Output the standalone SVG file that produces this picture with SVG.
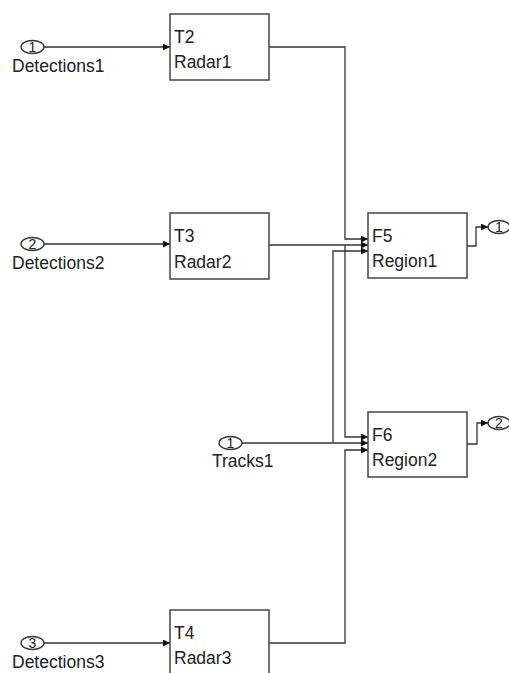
<svg xmlns="http://www.w3.org/2000/svg" width="509" height="673" viewBox="0 0 509 673">
<defs>
<marker id="arr" viewBox="0 0 8 8" refX="8" refY="4" markerWidth="7" markerHeight="7" markerUnits="userSpaceOnUse" orient="auto">
<path d="M0,0 L8,4 L0,8 z" fill="#111"/>
</marker>
<style>
.blk{fill:#fff;stroke:#444;stroke-width:1.5}
.port{fill:#fff;stroke:#333;stroke-width:1.3}
.t{font-family:"Liberation Sans",Arial,sans-serif;font-size:17.5px;fill:#222}
.n{font-family:"Liberation Sans",Arial,sans-serif;font-size:14px;fill:#222;text-anchor:middle}
.c{fill:none;stroke:#333;stroke-width:1.3}
.a{marker-end:url(#arr)}
</style>
</defs>
<rect width="509" height="673" fill="#fff"/>
<g id="connectors">
<path class="c a" d="M44,47 H170"/>
<path class="c a" d="M44,244 H170"/>
<path class="c a" d="M44,643 H170"/>
<path class="c a" d="M242,443 H368"/>
<path class="c a" d="M333,443 V251 H368"/>
<path class="c a" d="M269,47 H345 V239 H368"/>
<path class="c a" d="M269,245 H368"/>
<path class="c a" d="M345,245 V437 H368"/>
<path class="c a" d="M269,643 H345 V450 H368"/>
<path class="c a" d="M467,246 H476 V227 H488"/>
<path class="c a" d="M467,444 H477 V423 H488"/>
</g>
<g id="in_Detections1">
<ellipse class="port" cx="32.5" cy="47" rx="11.5" ry="6.5"/>
<text class="n" x="32.5" y="52">1</text>
<text class="t" x="12" y="72">Detections1</text>
</g>
<g id="in_Detections2">
<ellipse class="port" cx="32.5" cy="244" rx="11.5" ry="6.5"/>
<text class="n" x="32.5" y="249">2</text>
<text class="t" x="12" y="269">Detections2</text>
</g>
<g id="in_Detections3">
<ellipse class="port" cx="32.5" cy="643" rx="11.5" ry="6.5"/>
<text class="n" x="32.5" y="648">3</text>
<text class="t" x="12" y="668">Detections3</text>
</g>
<g id="in_Tracks1">
<ellipse class="port" cx="230.5" cy="443" rx="11.5" ry="6.5"/>
<text class="n" x="230.5" y="448">1</text>
<text class="t" x="212" y="467">Tracks1</text>
</g>
<g id="T2">
<rect class="blk" x="170" y="14" width="99" height="66"/>
<text class="t" x="174" y="43">T2</text>
<text class="t" x="174" y="68">Radar1</text>
</g>
<g id="T3">
<rect class="blk" x="170" y="213" width="99" height="66"/>
<text class="t" x="174" y="242">T3</text>
<text class="t" x="174" y="268">Radar2</text>
</g>
<g id="T4">
<rect class="blk" x="170" y="610" width="99" height="70"/>
<text class="t" x="174" y="639">T4</text>
<text class="t" x="174" y="664">Radar3</text>
</g>
<g id="F5">
<rect class="blk" x="368" y="213" width="99" height="65"/>
<text class="t" x="372" y="242">F5</text>
<text class="t" x="372" y="267">Region1</text>
</g>
<g id="F6">
<rect class="blk" x="368" y="412" width="99" height="65"/>
<text class="t" x="372" y="441">F6</text>
<text class="t" x="372" y="466">Region2</text>
</g>
<g id="out_1">
<ellipse class="port" cx="499" cy="227" rx="11" ry="6.5"/>
<text class="n" x="499" y="232">1</text>
</g>
<g id="out_2">
<ellipse class="port" cx="499" cy="423" rx="11" ry="6.5"/>
<text class="n" x="499" y="428">2</text>
</g>
</svg>
